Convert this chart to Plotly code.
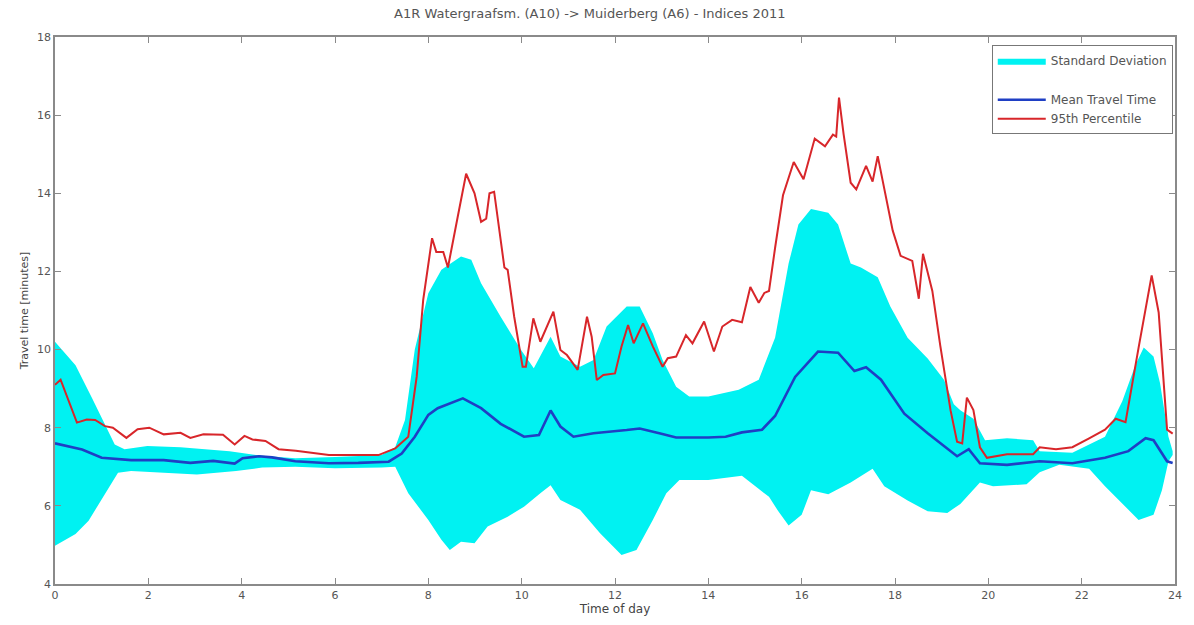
import plotly.graph_objects as go

# ---------------- data ----------------
mean_t = [0, 0.58, 1.0, 1.63, 2.33, 2.9, 3.39, 3.85, 4.02, 4.37, 4.65, 5.15, 5.87, 6.5, 7.15,
          7.43, 7.71, 8.0, 8.2, 8.74, 9.13, 9.55, 10.05, 10.37, 10.62, 10.83, 11.11, 11.54,
          12.25, 12.53, 12.95, 13.31, 14.0, 14.37, 14.72, 15.15, 15.43, 15.86, 16.35, 16.78,
          17.13, 17.38, 17.7, 18.2, 18.7, 19.33, 19.58, 19.82, 20.4, 21.1, 21.8, 22.5, 23.0,
          23.37, 23.54, 23.83, 23.95]
mean_v = [7.6, 7.44, 7.23, 7.17, 7.17, 7.1, 7.15, 7.08, 7.22, 7.27, 7.24, 7.14, 7.09, 7.1, 7.13,
          7.34, 7.77, 8.33, 8.5, 8.75, 8.5, 8.1, 7.77, 7.81, 8.44, 8.03, 7.77, 7.86,
          7.94, 7.98, 7.86, 7.75, 7.75, 7.77, 7.88, 7.95, 8.3, 9.3, 9.95, 9.92,
          9.45, 9.55, 9.23, 8.36, 7.86, 7.27, 7.45, 7.09, 7.05, 7.14, 7.09, 7.23, 7.4,
          7.73, 7.68, 7.14, 7.1]

p95_t = [0, 0.12, 0.47, 0.68, 0.86, 1.07, 1.24, 1.53, 1.77, 2.02, 2.33, 2.69, 2.9, 3.18, 3.6,
         3.85, 4.06, 4.23, 4.51, 4.79, 5.16, 5.87, 6.4, 6.93, 7.29, 7.57, 7.75, 7.89, 8.08,
         8.17, 8.32, 8.42, 8.63, 8.81, 8.99, 9.13, 9.24, 9.31, 9.41, 9.63, 9.7, 9.84, 10.02,
         10.09, 10.25, 10.4, 10.68, 10.83, 10.97, 11.2, 11.4, 11.5, 11.61, 11.75, 12.0, 12.14,
         12.28, 12.4, 12.6, 12.81, 13.02, 13.13, 13.31, 13.52, 13.66, 13.91, 14.12, 14.3,
         14.51, 14.72, 14.9, 15.08, 15.2, 15.3, 15.43, 15.6, 15.83, 16.04, 16.28, 16.5, 16.67,
         16.74, 16.8, 16.9, 17.05, 17.17, 17.38, 17.52, 17.63, 17.77, 17.95, 18.12, 18.37,
         18.51, 18.6, 18.8, 18.97, 19.19, 19.33, 19.44, 19.54, 19.68, 19.82, 19.97, 20.4,
         20.96, 21.1, 21.45, 21.8, 22.16, 22.5, 22.73, 22.94, 23.22, 23.5, 23.65, 23.83, 23.95]
p95_v = [9.1, 9.23, 8.13, 8.21, 8.2, 8.04, 8.0, 7.74, 7.96, 8.0, 7.83, 7.87, 7.74, 7.83, 7.82,
         7.57, 7.79, 7.7, 7.66, 7.45, 7.41, 7.3, 7.3, 7.3, 7.47, 7.77, 9.3, 11.27, 12.85,
         12.5, 12.5, 12.1, 13.4, 14.5, 14.0, 13.27, 13.35, 14.0, 14.04, 12.1, 12.04, 10.84, 9.56,
         9.56, 10.8, 10.2, 10.97, 9.99, 9.86, 9.48, 10.84, 10.33, 9.22, 9.35, 9.39, 10.08,
         10.63, 10.16, 10.67, 10.08, 9.56, 9.78, 9.82, 10.37, 10.16, 10.72, 9.95, 10.59,
         10.76, 10.7, 11.6, 11.2, 11.45, 11.5, 12.6, 13.95, 14.8, 14.36, 15.4, 15.2, 15.5,
         15.45, 16.45, 15.5, 14.27, 14.1, 14.7, 14.3, 14.95, 14.1, 13.05, 12.4, 12.27,
         11.3, 12.45, 11.5, 10.1, 8.45, 7.64, 7.6, 8.77, 8.45, 7.5, 7.23, 7.32,
         7.32, 7.5, 7.45, 7.5, 7.73, 7.95, 8.23, 8.14, 10.05, 11.9, 10.95, 7.95, 7.85]

std_up_t = [0, 0.44, 0.79, 1.07, 1.28, 1.49, 1.98, 2.69, 3.74, 4.44, 5.15, 6.0, 7.0, 7.29, 7.5,
            7.71, 8.0, 8.28, 8.7, 8.92, 9.13, 9.55, 9.98, 10.26, 10.62, 10.83, 11.25, 11.54,
            11.82, 12.25, 12.53, 12.81, 13.02, 13.31, 13.59, 14.0, 14.65, 15.08, 15.43, 15.72,
            15.93, 16.2, 16.57, 16.78, 17.05, 17.27, 17.63, 17.9, 18.27, 18.7, 19.05, 19.26,
            19.4, 19.68, 19.93, 20.4, 20.96, 21.1, 21.8, 22.5, 22.87, 23.15, 23.33, 23.54,
            23.68, 23.86, 23.95]
std_up_v = [10.2, 9.6, 8.77, 8.09, 7.57, 7.45, 7.53, 7.5, 7.4, 7.28, 7.22, 7.25, 7.3, 7.5, 8.2,
            10.0, 11.44, 12.04, 12.38, 12.3, 11.7, 10.84, 10.0, 9.52, 10.33, 9.82, 9.56, 9.73,
            10.59, 11.1, 11.1, 10.42, 9.73, 9.05, 8.8, 8.8, 8.97, 9.23, 10.3, 12.2,
            13.2, 13.6, 13.5, 13.2, 12.2, 12.1, 11.85, 11.1, 10.3, 9.77, 9.23, 8.6,
            8.45, 8.23, 7.68, 7.73, 7.68, 7.4, 7.36, 7.77, 8.68, 9.6, 10.05, 9.82,
            9.14, 7.77, 7.4]

std_lo_t = [0, 0.44, 0.72, 1.07, 1.35, 1.63, 2.33, 3.04, 3.88, 4.44, 5.15, 6.0, 7.0, 7.29, 7.57,
            8.0, 8.28, 8.46, 8.7, 8.99, 9.27, 9.7, 10.05, 10.4, 10.62, 10.83, 11.25, 11.68,
            12.14, 12.46, 12.81, 13.1, 13.38, 14.0, 14.72, 15.3, 15.5, 15.72, 16.0, 16.2, 16.57,
            17.05, 17.52, 17.77, 18.27, 18.7, 19.12, 19.4, 19.82, 20.1, 20.82, 21.1, 21.52,
            22.16, 22.5, 22.87, 23.22, 23.54, 23.72, 23.86, 23.95]
std_lo_v = [4.98, 5.28, 5.62, 6.3, 6.85, 6.89, 6.85, 6.8, 6.89, 6.98, 7.0, 6.96, 6.98, 7.0, 6.32,
            5.64, 5.13, 4.87, 5.08, 5.04, 5.47, 5.72, 5.98, 6.32, 6.53, 6.15, 5.9, 5.3,
            4.74, 4.87, 5.64, 6.32, 6.66, 6.66, 6.77, 6.23, 5.86, 5.5, 5.77, 6.4, 6.3,
            6.6, 6.95, 6.5, 6.14, 5.86, 5.82, 6.05, 6.6, 6.5, 6.55, 6.86, 7.05,
            6.95, 6.5, 6.05, 5.64, 5.77, 6.4, 7.14, 7.3]

x_ticks = list(range(0, 25, 2))
y_ticks = list(range(4, 19, 2))

title_text = "A1R Watergraafsm. (A10) -> Muiderberg (A6) - Indices 2011"

FONT = "DejaVu Sans, Verdana, sans-serif"

# ---------------- figure ----------------
fig = go.Figure()

band_x = std_up_t + std_lo_t[::-1]
band_y = std_up_v + std_lo_v[::-1]
fig.add_trace(go.Scatter(
    x=band_x, y=band_y, mode="lines", fill="toself",
    fillcolor="#00F2F2", line=dict(width=0, color="#00F2F2"),
    name="Standard Deviation", legendgroup="a", hoverinfo="skip"))

fig.add_trace(go.Scatter(
    x=mean_t, y=mean_v, mode="lines",
    line=dict(color="#1F3FC4", width=2.6),
    name="Mean Travel Time", legendgroup="b"))

fig.add_trace(go.Scatter(
    x=p95_t, y=p95_v, mode="lines",
    line=dict(color="#D8262A", width=2),
    name="95th Percentile", legendgroup="b"))

axis_common = dict(
    showgrid=False, zeroline=False, showline=True, linecolor="#8A8A8A", linewidth=1.5,
    mirror="ticks", ticks="inside", ticklen=6, tickcolor="#8A8A8A", tickwidth=1,
    tickfont=dict(family=FONT, size=11, color="#555555"),
)

fig.update_layout(
    width=1194, height=625,
    margin=dict(l=55, r=12, t=37, b=41),
    paper_bgcolor="white", plot_bgcolor="white",
    font=dict(family=FONT, size=11, color="#555555"),
    title=dict(text=title_text, x=0.494, xref="container", xanchor="center",
               y=0.985, yref="container", yanchor="top",
               font=dict(family=FONT, size=13, color="#555555")),
    xaxis=dict(range=[0, 24], tickvals=x_ticks, ticktext=[str(v) for v in x_ticks],
               title=dict(text="Time of day", standoff=2,
                          font=dict(family=FONT, size=12, color="#444444")),
               **axis_common),
    yaxis=dict(range=[4, 18], tickvals=y_ticks, ticktext=[str(v) for v in y_ticks],
               title=dict(text="Travel time [minutes]", standoff=6,
                          font=dict(family=FONT, size=11, color="#444444")),
               **axis_common),
    legend=dict(x=0.998, y=0.985, xanchor="right", yanchor="top",
                bgcolor="white", bordercolor="#777777", borderwidth=1,
                font=dict(family=FONT, size=12, color="#555555"),
                itemwidth=48, tracegroupgap=20, traceorder="grouped"),
    showlegend=True,
)

fig.write_html("out.html")
